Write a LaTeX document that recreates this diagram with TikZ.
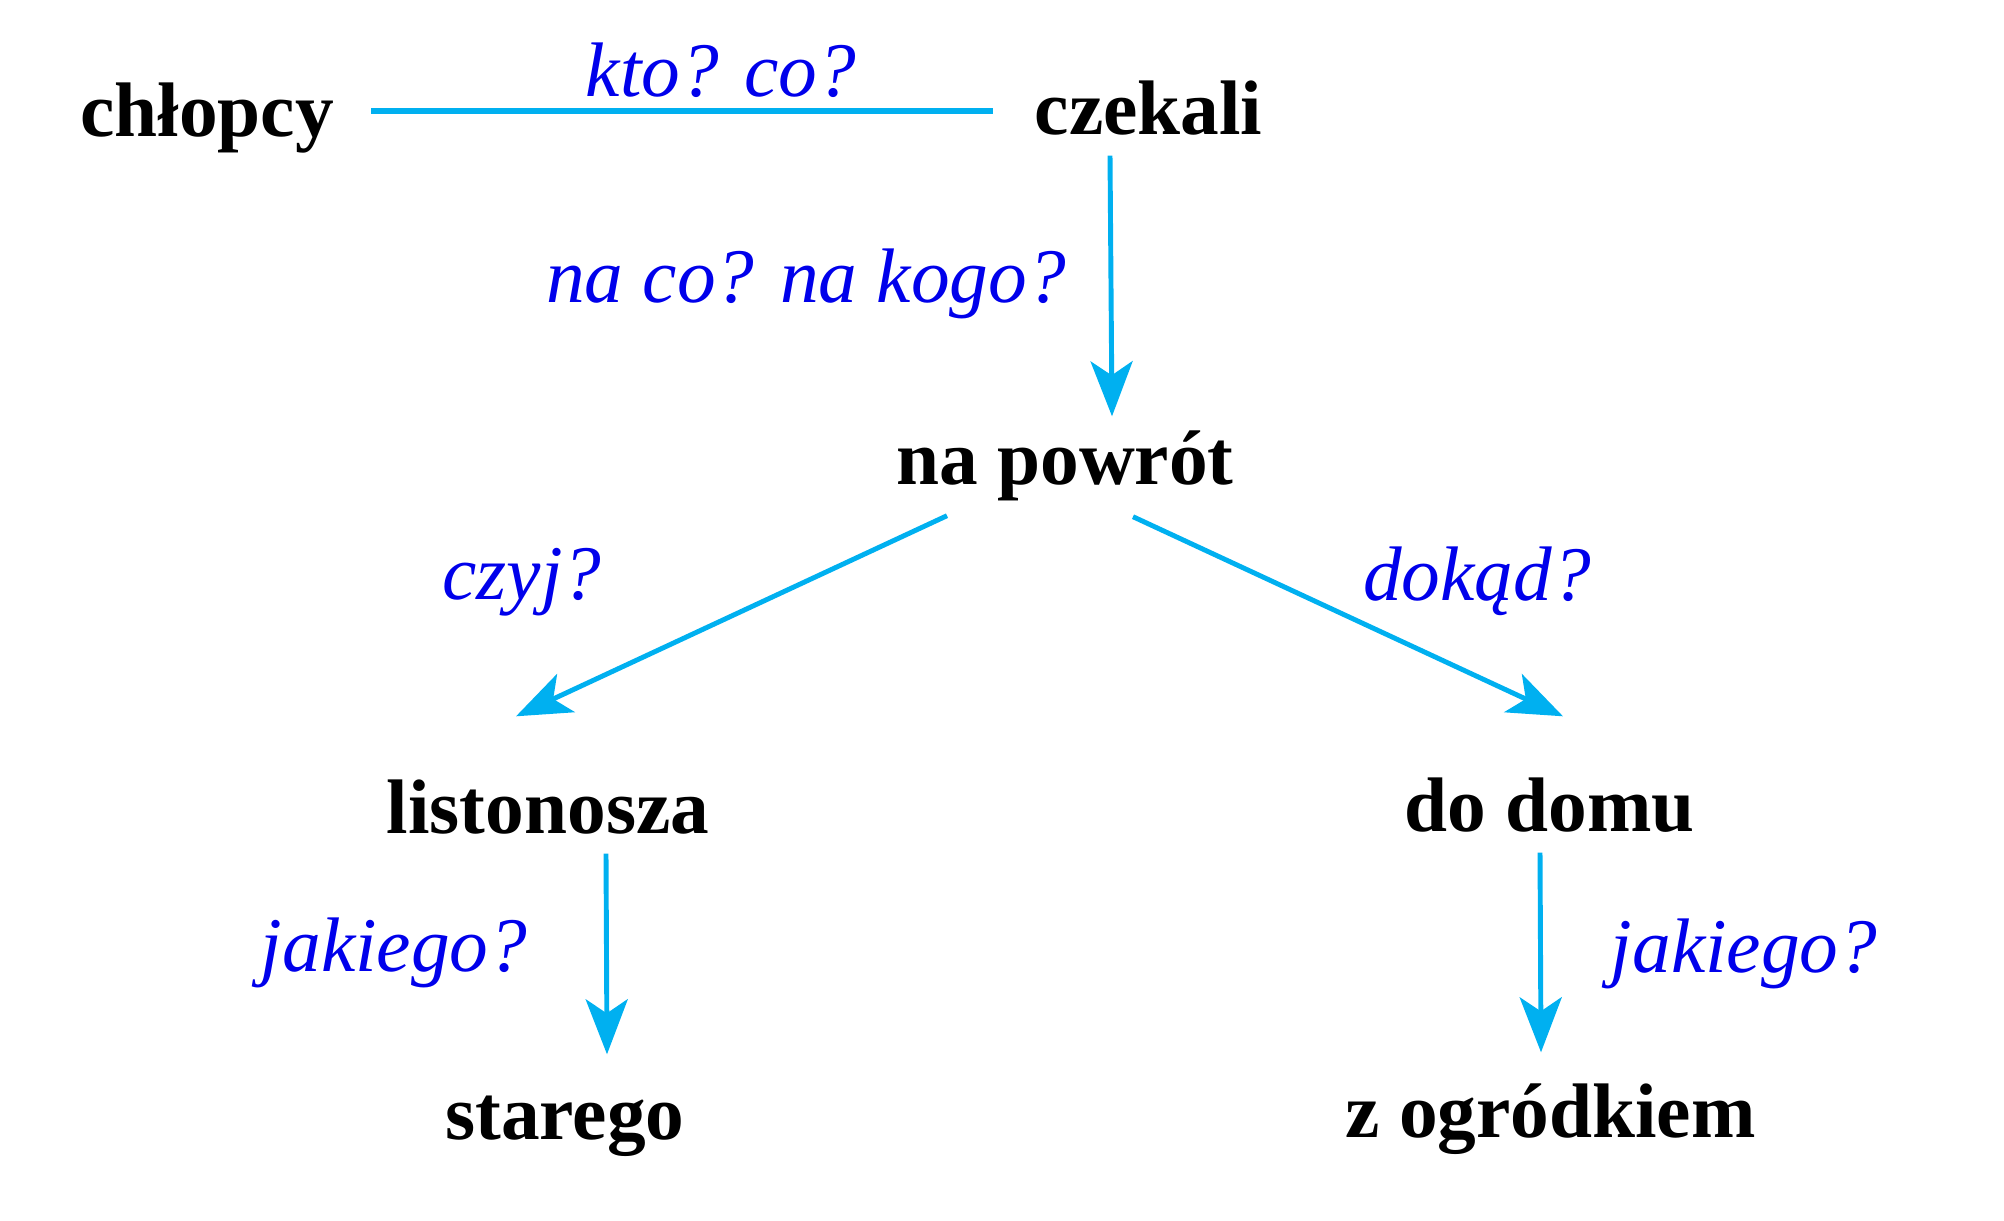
\documentclass[tikz,border=0pt]{standalone}
\usepackage{fontspec}
\setmainfont{Liberation Serif}
\usetikzlibrary{arrows.meta}
\definecolor{linia}{RGB}{0,176,240}
\definecolor{pyt}{RGB}{0,0,235}

\begin{document}
\begin{tikzpicture}[
    slowo/.style={inner sep=0pt, anchor=base, text height=0.54cm, text depth=0.17cm,
        font=\fontsize{22}{26}\selectfont\bfseries},
    pytanie/.style={inner sep=0pt, anchor=base, text=pyt,
        font=\fontsize{22}{26}\selectfont\itshape},
    kreska/.style={draw=linia, line width=1.4pt},
    strzalka/.style={kreska, -{Stealth[length=5.5mm, width=4.2mm, inset=1.4mm]}}]
    \useasboundingbox (0,0) rectangle (20.04,12.20);

    \node[slowo] (C) at (2.07,10.84) {chłopcy};
    \node[slowo] (CZ) at (11.485,10.85) {czekali};
    \node[pytanie] (Q1) at (7.21,11.23) {kto? co?};

    \node[pytanie] (Q2) at (8.06,9.18) {na co? na kogo?};
    \node[slowo] (NP) at (10.65,7.36) {na powrót};

    \node[pytanie] (Q3) at (5.22,6.21) {czyj?};
    \node[pytanie] (Q4) at (14.77,6.20) {dokąd?};
    \node[slowo] (L) at (5.48,3.87) {listonosza};
    \node[slowo] (D) at (15.495,3.89) {do domu};

    \node[pytanie] (Q5) at (3.94,2.49) {jakiego?};
    \node[pytanie] (Q6) at (17.44,2.48) {jakiego?};
    \node[slowo] (S) at (5.65,0.81) {starego};
    \node[slowo] (Z) at (15.505,0.83) {z ogródkiem};

    \path[kreska, line width=1.7pt] ([xshift=0.37cm,yshift=0.065cm]C.east) -- ([xshift=-0.41cm,yshift=0.055cm]CZ.west);
    \path[strzalka] ([xshift=-0.385cm,yshift=-0.03cm]CZ.south) -- ([xshift=0.47cm,yshift=0.13cm]NP.north);
    \path[strzalka] ([xshift=-1.18cm,yshift=-0.14cm]NP.south) -- ([xshift=-0.32cm,yshift=0.62cm]L.north);
    \path[strzalka] ([xshift=0.68cm,yshift=-0.15cm]NP.south) -- ([xshift=0.135cm,yshift=0.60cm]D.north);
    \path[strzalka] ([xshift=0.58cm,yshift=-0.03cm]L.south) -- ([xshift=0.42cm,yshift=0.30cm]S.north);
    \path[strzalka] ([xshift=-0.095cm,yshift=-0.04cm]D.south) -- ([xshift=-0.095cm,yshift=0.30cm]Z.north);
\end{tikzpicture}
\end{document}
